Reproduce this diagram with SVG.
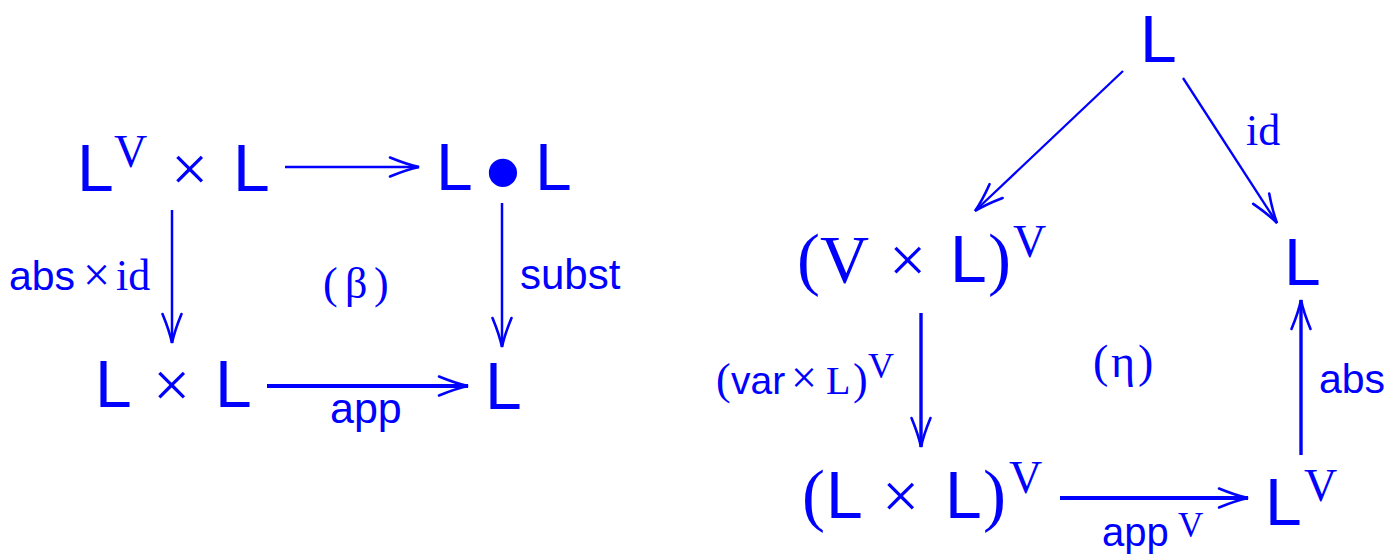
<svg xmlns="http://www.w3.org/2000/svg" width="1391" height="558" viewBox="0 0 1391 558">
<style>
text{fill:#0000ff}
.L{font-family:"Liberation Sans",Arial,sans-serif;font-size:66px}
.r{font-family:"Liberation Serif","Times New Roman",serif}
.big{font-size:66px}
.par{font-size:69px}
.sup{font-size:46px}
.lab{font-family:"Liberation Sans",Arial,sans-serif;font-size:41px}
.ar{fill:none;stroke:#0000ff;stroke-width:2.5}
.thick{stroke-width:4}
.mid{stroke-width:3.4}
.thin{stroke-width:2.3}
</style>
<defs>
<marker id="ah" markerUnits="userSpaceOnUse" orient="auto" refX="0" refY="0" markerWidth="40" markerHeight="40" overflow="visible">
<path d="M-29,-9.5 Q-12,-2.5 0,0 Q-12,2.5 -29,9.5" fill="none" stroke="#0000ff" stroke-width="2.6" stroke-linecap="round"/>
</marker>
</defs>

<g id="connectors">
<line class="ar" x1="285" y1="167" x2="419" y2="167" marker-end="url(#ah)"/>
<line class="ar" x1="172" y1="210" x2="172" y2="343" marker-end="url(#ah)"/>
<line class="ar" x1="502" y1="203" x2="502" y2="347" marker-end="url(#ah)"/>
<line class="ar thick" x1="267" y1="386" x2="468" y2="386" marker-end="url(#ah)"/>
<line class="ar thin" x1="1123" y1="71" x2="975" y2="211" marker-end="url(#ah)"/>
<line class="ar thin" x1="1183" y1="78" x2="1277" y2="223" marker-end="url(#ah)"/>
<line class="ar mid" x1="921" y1="313" x2="921" y2="447" marker-end="url(#ah)"/>
<line class="ar mid" x1="1301" y1="455" x2="1301" y2="300" marker-end="url(#ah)"/>
<line class="ar thick" x1="1060" y1="498" x2="1248" y2="498" marker-end="url(#ah)"/>
</g>

<g id="labels">
<text class="lab" x="9" y="290">abs</text>
<text class="r" x="83" y="291" style="font-size:48px">×</text>
<text class="r" x="116" y="290" style="font-size:44px">id</text>
<text class="lab" x="520" y="289" style="font-size:42px">subst</text>
<text class="lab" x="330" y="423" style="font-size:43px">app</text>
<text class="r" x="323" y="298" style="font-size:44px">(</text>
<text class="r" x="345" y="298" style="font-size:44px">β</text>
<text class="r" x="374" y="298" style="font-size:44px">)</text>
<text class="r" x="1246" y="145" style="font-size:44px">id</text>
<text class="r" x="716" y="394" style="font-size:44px">(</text>
<text class="lab" x="731" y="394" style="font-size:39px">var</text>
<text class="r" x="791" y="393" style="font-size:46px">×</text>
<text class="r" x="826" y="394" style="font-size:40px">L</text>
<text class="r" x="853" y="394" style="font-size:44px">)</text>
<text class="r" x="868" y="378" style="font-size:36px">V</text>
<text class="r" x="1093" y="377" style="font-size:46px">(</text>
<text class="r" x="1111" y="377" style="font-size:46px">η</text>
<text class="r" x="1138" y="377" style="font-size:46px">)</text>
<text class="lab" x="1319" y="393">abs</text>
<text class="lab" x="1102" y="546" style="font-size:40px">app</text>
<text class="r" x="1178" y="537" style="font-size:35px">V</text>
</g>

<g id="node-LV-x-L">
<text class="L" x="77" y="191">L</text>
<text class="r sup" x="114" y="167">V</text>
<text class="r big" x="171" y="191">×</text>
<text class="L" x="233" y="191">L</text>
</g>

<g id="node-L-bullet-L">
<text class="L" x="436" y="190">L</text>
<text class="L" x="503" y="207" text-anchor="middle" style="font-size:104px">•</text>
<text class="L" x="535" y="190">L</text>
</g>

<g id="node-L-x-L">
<text class="L" x="95" y="407">L</text>
<text class="r big" x="153" y="407">×</text>
<text class="L" x="215" y="407">L</text>
</g>

<g id="node-L-left-result">
<text class="L" x="485" y="409">L</text>
</g>

<g id="node-L-top">
<text class="L" x="1140" y="62">L</text>
</g>

<g id="node-VxL-V">
<text class="r par" x="797" y="282">(</text>
<text class="r" x="820" y="282" style="font-size:68px">V</text>
<text class="r big" x="889" y="282">×</text>
<text class="L" x="950" y="282">L</text>
<text class="r par" x="988" y="282">)</text>
<text class="r sup" x="1013" y="257">V</text>
</g>

<g id="node-L-right">
<text class="L" x="1284" y="285">L</text>
</g>

<g id="node-LxL-V">
<text class="r par" x="802" y="518">(</text>
<text class="L" x="826" y="518">L</text>
<text class="r big" x="882" y="518">×</text>
<text class="L" x="945" y="518">L</text>
<text class="r par" x="983" y="518">)</text>
<text class="r sup" x="1009" y="493">V</text>
</g>

<g id="node-LV">
<text class="L" x="1265" y="525">L</text>
<text class="r sup" x="1304" y="501">V</text>
</g>
</svg>
